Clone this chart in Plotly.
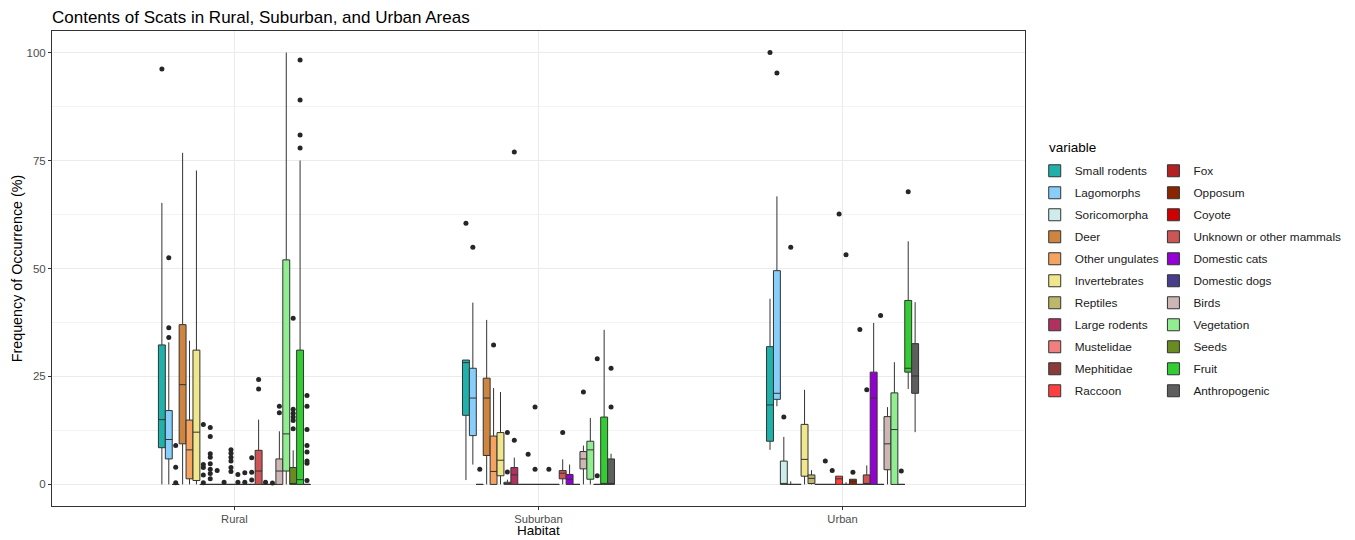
import plotly.graph_objects as go

# ---- data -------------------------------------------------------------
habitats = ["Rural", "Suburban", "Urban"]

variables = [
    "Small rodents", "Lagomorphs", "Soricomorpha", "Deer", "Other ungulates",
    "Invertebrates", "Reptiles", "Large rodents", "Mustelidae", "Mephitidae",
    "Raccoon", "Fox", "Opposum", "Coyote", "Unknown or other mammals",
    "Domestic cats", "Domestic dogs", "Birds", "Vegetation", "Seeds",
    "Fruit", "Anthropogenic",
]

# box statistics per habitat (one value per variable, same order as above)
rural_lower = [0, 0, 0, 0, 0, 0, 0, 0, 0, 0, 0, 0, 0, 0, 0, 0, 0, 0, 0, 0, 0, 0]
rural_q1 = [8.5, 5.9, 0, 9.4, 1.3, 0.9, 0, 0, 0, 0, 0, 0, 0, 0, 0, 0, 0, 0, 3.1, 0, 0, 0]
rural_median = [15.0, 10.4, 0, 23.1, 8.0, 12.1, 0, 0, 0, 0, 0, 0, 0, 0, 3.1, 0, 0, 3.1, 11.7, 0, 1.1, 0]
rural_q3 = [32.3, 17.1, 0, 37.0, 14.9, 31.1, 0, 0, 0, 0, 0, 0, 0, 0, 7.9, 0, 0, 5.9, 52.0, 3.9, 31.1, 0]
rural_upper = [65.2, 32.9, 0, 76.8, 33.3, 72.7, 0, 0, 0, 0, 0, 0, 0, 0, 15.0, 0, 0, 12.3, 100.0, 7.9, 75.0, 0]
rural_outliers = [
    [96.2], [34.0, 36.3, 52.5], [9.0, 4.0, 0.4], [], [], [],
    [13.9, 4.6, 3.9, 2.2, 0.4], [13.2, 11.1, 7.1, 6.3, 4.8, 3.5, 2.5, 1.3],
    [3.2], [0.5], [8.0, 7.2, 6.3, 5.4, 3.9, 3.0], [2.3, 0.5], [2.7, 0.5],
    [6.2, 2.8, 1.0], [22.1, 24.3], [0.5], [0.3], [16.6, 18.1], [],
    [12.9, 14.8, 15.6, 16.5, 17.4, 38.5], [77.9, 80.9, 89.0, 98.3],
    [0.9, 4.9, 5.4, 7.5, 9.0, 12.7, 18.1, 20.6],
]

suburban_lower = [1.0, 4.6, 0, 0, 0, 0, 0, 0, 0, 0, 0, 0, 0, 0, 0, 0, 0, 0, 0, 0, 0, 0]
suburban_q1 = [16.0, 11.3, 0, 6.7, 0, 2.0, 0, 0, 0, 0, 0, 0, 0, 0, 1.3, 0, 0, 3.6, 1.2, 0, 0, 0]
suburban_median = [28.2, 20.0, 0, 20.0, 3.0, 5.6, 0, 2.2, 0, 0, 0, 0, 0, 0, 2.6, 1.2, 0, 5.9, 8.0, 0, 0, 0]
suburban_q3 = [28.8, 26.9, 0, 24.6, 11.2, 12.0, 0.5, 3.9, 0, 0, 0, 0, 0, 0, 3.2, 2.3, 0, 7.6, 10.0, 0, 15.6, 5.9]
suburban_upper = [28.8, 42.1, 0, 38.1, 22.3, 21.4, 1.1, 6.2, 0, 0, 0, 0, 0, 0, 5.8, 4.6, 0, 9.0, 15.4, 0, 35.8, 7.1]
suburban_outliers = [
    [60.5], [54.9], [3.5], [], [32.3], [], [2.9, 12.0], [10.2, 77.0],
    [], [7.0], [3.5, 17.9], [], [3.5], [], [12.0], [], [], [21.4], [],
    [2.0, 29.1], [], [17.9, 26.9],
]

urban_lower = [8.0, 18.1, 0, 0, 0, 0, 0, 0, 0, 0, 0, 0, 0, 0, 0, 0, 0, 0, 0, 0, 22.1, 12.1]
urban_q1 = [10.0, 19.7, 0, 0, 0, 1.9, 0.2, 0, 0, 0, 0, 0, 0, 0, 0, 0, 0, 3.4, 0, 0, 26.0, 21.1]
urban_median = [18.4, 21.1, 0, 0, 0, 5.8, 1.4, 0, 0, 0, 1.3, 0, 0.7, 0, 0, 20.0, 0, 9.4, 12.7, 0, 26.9, 25.1]
urban_q3 = [31.9, 49.5, 5.4, 0, 0, 13.9, 2.2, 0, 0, 0, 1.9, 0, 1.2, 0, 2.2, 26.0, 0, 15.7, 21.2, 0, 42.6, 32.6]
urban_upper = [43.0, 66.7, 11.0, 0.7, 0, 21.9, 3.3, 0, 0, 0, 1.9, 0.5, 1.2, 0, 4.4, 37.4, 0, 17.9, 28.3, 0, 56.3, 42.2]
urban_outliers = [
    [100.0], [95.3], [15.6], [54.9], [], [], [], [], [5.4], [3.2], [62.6],
    [53.2], [2.8], [35.9], [21.9], [], [39.1], [], [], [3.1], [67.8], [],
]

# ---- styling ------------------------------------------------------------
fill_colors = [
    "#20B2AA", "#87CEFA", "#CFECEC", "#CD853F", "#F4A460", "#F0E68C",
    "#BDB76B", "#B03060", "#F08080", "#8B3A3A", "#FF4040", "#B22222",
    "#8B2500", "#CD0000", "#CD5555", "#9400D3", "#483D8B", "#CDB7B5",
    "#90EE90", "#698B22", "#32CD32", "#5E5E5E",
]
FONT = "Liberation Sans, Arial, sans-serif"
OUTLINE = "#333333"

stats = [
    (rural_lower, rural_q1, rural_median, rural_q3, rural_upper, rural_outliers),
    (suburban_lower, suburban_q1, suburban_median, suburban_q3, suburban_upper, suburban_outliers),
    (urban_lower, urban_q1, urban_median, urban_q3, urban_upper, urban_outliers),
]

fig = go.Figure()
n_first_col = 11

for i, name in enumerate(variables):
    legend_id = "legend" if i < n_first_col else "legend2"
    fig.add_trace(go.Box(
        name=name,
        x=habitats,
        lowerfence=[s[0][i] for s in stats],
        q1=[s[1][i] for s in stats],
        median=[s[2][i] for s in stats],
        q3=[s[3][i] for s in stats],
        upperfence=[s[4][i] for s in stats],
        offsetgroup=name,
        legendgroup=name,
        legend=legend_id,
        fillcolor=fill_colors[i],
        line=dict(color=OUTLINE, width=1),
        whiskerwidth=0,
        boxpoints=False,
        hoverinfo="skip",
    ))

for i, name in enumerate(variables):
    xs, ys = [], []
    for h, s in zip(habitats, stats):
        for v in s[5][i]:
            xs.append(h)
            ys.append(v)
    if not xs:
        xs, ys = [habitats[0]], [None]
    fig.add_trace(go.Scatter(
        x=xs, y=ys,
        mode="markers",
        offsetgroup=name,
        legendgroup=name,
        showlegend=False,
        marker=dict(color="#262626", size=5),
        hoverinfo="skip",
    ))

legend_common = dict(
    font=dict(size=11.8, color="#1A1A1A"),
    y=0.7363, xanchor="left", yanchor="top",
    traceorder="grouped", tracegroupgap=3,
    bgcolor="rgba(0,0,0,0)",
)

fig.update_layout(
    width=1355, height=540,
    margin=dict(l=52, r=330, t=31, b=34, autoexpand=False),
    paper_bgcolor="white", plot_bgcolor="white",
    font=dict(family=FONT, color="#000000"),
    boxmode="group", boxgap=0.5, boxgroupgap=0,
    scattermode="group", scattergap=0.5,
    title=dict(
        text="Contents of Scats in Rural, Suburban, and Urban Areas",
        font=dict(size=17, color="#000000", family=FONT),
        x=0, xref="paper", xanchor="left",
        y=1 - 17 / 540, yanchor="middle",
    ),
    legend=dict(x=1.010, **legend_common),
    legend2=dict(x=1.132, **legend_common),
    annotations=[
        dict(
            text="variable", xref="paper", yref="paper",
            x=(1047 - 52) / 973, y=(506 - 147) / 475,
            xanchor="left", yanchor="middle", showarrow=False,
            font=dict(size=13.5, color="#000000"),
        ),
        # x-axis title
        dict(
            text="Habitat", xref="paper", yref="paper",
            x=0.5, y=(506 - 539) / 475,
            xanchor="center", yanchor="bottom", showarrow=False,
            borderpad=0,
            font=dict(size=13.5, color="#000000"),
        ),
    ],
)

fig.update_xaxes(
    type="category", categoryorder="array", categoryarray=habitats,
    range=[-0.6, 2.6],
    showline=True, mirror=True, linecolor=OUTLINE, linewidth=1,
    ticks="outside", ticklen=3, tickcolor=OUTLINE,
    tickfont=dict(size=11.2, color="#4D4D4D"),
    showgrid=True, gridcolor="#EBEBEB", gridwidth=1,
    zeroline=False,
)
fig.update_yaxes(
    range=[-5, 105],
    tickvals=[0, 25, 50, 75, 100],
    showline=True, mirror=True, linecolor=OUTLINE, linewidth=1,
    ticks="outside", ticklen=3, tickcolor=OUTLINE,
    tickfont=dict(size=11.5, color="#4D4D4D"),
    showgrid=True, gridcolor="#EBEBEB", gridwidth=1,
    minor=dict(tickvals=[12.5, 37.5, 62.5, 87.5], showgrid=True,
               gridcolor="#F3F3F3", gridwidth=1, ticks=""),
    zeroline=False,
    title=dict(text="Frequency of Occurrence (%)",
               font=dict(size=14.3, color="#000000"), standoff=0),
)

fig.write_html("out.html")
